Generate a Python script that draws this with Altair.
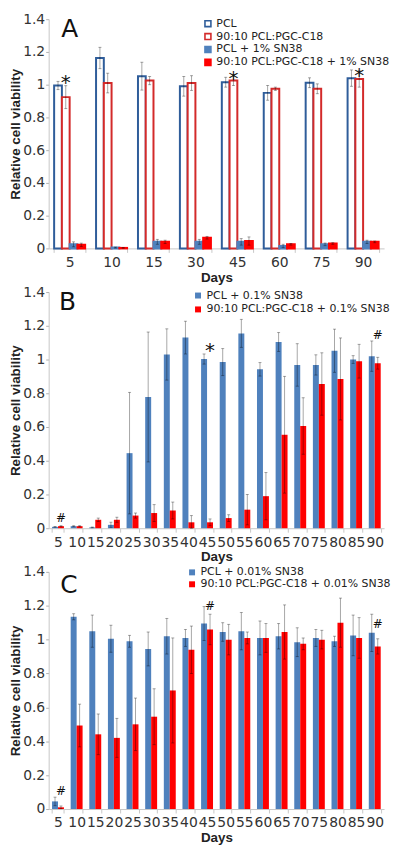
import altair as alt
import pandas as pd

FONT = "DejaVu Sans"
TFONT = "Liberation Sans"

# ---------------- Panel A ----------------
days_a = ["5", "10", "15", "30", "45", "60", "75", "90"]
series_a = ["PCL", "90:10 PCL:PGC-C18", "PCL + 1% SN38", "90:10 PCL:PGC-C18 + 1% SN38"]
a_pcl = [0.995, 1.163, 1.052, 0.990, 1.015, 0.950, 1.012, 1.040]
a_pcl_err = [0.025, 0.065, 0.085, 0.060, 0.030, 0.045, 0.030, 0.050]
a_blend = [0.924, 1.010, 1.025, 1.010, 1.025, 0.975, 0.975, 1.035]
a_blend_err = [0.070, 0.060, 0.025, 0.045, 0.030, 0.010, 0.030, 0.050]
a_pcl_sn = [0.025, 0.005, 0.040, 0.040, 0.040, 0.015, 0.025, 0.040]
a_pcl_sn_err = [0.015, 0.003, 0.015, 0.015, 0.020, 0.010, 0.008, 0.010]
a_blend_sn = [0.022, 0.003, 0.040, 0.065, 0.045, 0.025, 0.030, 0.040]
a_blend_sn_err = [0.010, 0.002, 0.010, 0.008, 0.025, 0.005, 0.005, 0.005]
ann_a_day = ["5", "45", "90"]
ann_a_y = [1.01, 1.035, 1.05]
ann_a_lbl = ["*", "*", "*"]

# ---------------- Panel B ----------------
days_bc = ["5", "10", "15", "20", "25", "30", "35", "40", "45",
           "50", "55", "60", "65", "70", "75", "80", "85", "90"]
series_b = ["PCL + 0.1% SN38", "90:10 PCL:PGC-C18 + 0.1% SN38"]
b_pcl = [0.008, 0.012, 0.005, 0.020, 0.445, 0.778, 1.030, 1.130, 1.003, 0.985,
         1.155, 0.942, 1.104, 0.968, 0.968, 1.052, 1.000, 1.020]
b_pcl_err = [0.002, 0.003, 0.002, 0.015, 0.360, 0.385, 0.152, 0.097, 0.030, 0.080,
             0.083, 0.040, 0.056, 0.126, 0.060, 0.128, 0.023, 0.090]
b_blend = [0.012, 0.012, 0.050, 0.050, 0.075, 0.090, 0.105, 0.035, 0.035, 0.060,
           0.110, 0.190, 0.554, 0.606, 0.855, 0.885, 0.990, 0.978]
b_blend_err = [0.003, 0.003, 0.010, 0.015, 0.015, 0.050, 0.050, 0.040, 0.020, 0.020,
               0.090, 0.140, 0.346, 0.168, 0.185, 0.243, 0.100, 0.035]
ann_b_day = ["5", "45", "90"]
ann_b_y = [0.063, 1.05, 1.147]
ann_b_lbl = ["#", "*", "#"]

# ---------------- Panel C ----------------
series_c = ["PCL + 0.01% SN38", "90:10 PCL:PGC-C18 + 0.01% SN38"]
c_pcl = [0.045, 1.135, 1.050, 1.005, 0.990, 0.945, 1.020, 1.010, 1.095, 1.045,
         1.050, 1.010, 1.020, 0.985, 1.010, 0.990, 1.025, 1.040]
c_pcl_err = [0.025, 0.018, 0.095, 0.080, 0.035, 0.100, 0.105, 0.050, 0.100, 0.055,
             0.110, 0.100, 0.075, 0.085, 0.050, 0.030, 0.120, 0.110]
c_blend = [0.010, 0.493, 0.441, 0.420, 0.500, 0.545, 0.700, 0.940, 1.060, 1.000,
           1.010, 1.010, 1.045, 0.975, 1.000, 1.100, 1.010, 0.960]
c_blend_err = [0.008, 0.126, 0.120, 0.115, 0.155, 0.165, 0.310, 0.140, 0.090, 0.090,
               0.035, 0.085, 0.160, 0.035, 0.055, 0.145, 0.120, 0.045]
ann_c_day = ["5", "45", "90"]
ann_c_y = [0.105, 1.200, 1.090]
ann_c_lbl = ["#", "#", "#"]

# panel letters (anchored at the first day band, near the top of the axis)
panel_letters = ["A", "B", "C"]
letter_day = "5"
letter_y = [1.293, 1.295, 1.275]

BLUE = "#4F81BD"
RED = "#FF0000"
BLUE_EDGE = "#2F5D9A"
RED_EDGE = "#D32A2A"


def long_frame(days, series, values, errs):
    rows = []
    for s, vals, es in zip(series, values, errs):
        for d, v, e in zip(days, vals, es):
            rows.append({"day": d, "series": s, "value": v,
                         "lo": max(v - e, 0.0), "hi": v + e})
    return pd.DataFrame(rows)


def ann_frame(days, series_name, ys, labels):
    return pd.DataFrame({"day": days, "series": [series_name] * len(days),
                         "y": ys, "label": labels})


def panel(df, ann, letter_df, days, series, fills, strokes, letter_dx,
          lx, ly, row_pad, leg_fs, pad_inner, height, bar_sw):
    xs = alt.Scale(paddingInner=pad_inner, paddingOuter=pad_inner / 2)
    xax = alt.Axis(title="Days", labelAngle=0, tickBand="extent", tickSize=4,
                   labelPadding=3, titlePadding=1, domainColor="#c8c8c8",
                   tickColor="#c8c8c8", labelFont=FONT, labelFontSize=14,
                   labelColor="#333333", titleFont=TFONT, titleFontSize=13.5,
                   titleFontWeight="bold", titleColor="#222222")
    yax = alt.Axis(title="Relative cell viability",
                   values=[0, 0.2, 0.4, 0.6, 0.8, 1.0, 1.2, 1.4], format="~g",
                   grid=False, tickSize=3, labelPadding=1, titlePadding=0,
                   domainColor="#c8c8c8", tickColor="#b0b0b0", labelFont=FONT,
                   labelFontSize=14, labelColor="#333333", titleFont=TFONT,
                   titleFontSize=13.5, titleFontWeight="bold", titleColor="#222222")
    ys = alt.Scale(domain=[0, 1.4], nice=False)
    x = alt.X("day:N", sort=days, scale=xs, axis=xax)
    xo = alt.XOffset("series:N", sort=series,
                     scale=alt.Scale(domain=series, paddingInner=0, paddingOuter=0))
    leg = alt.Legend(title=None, orient="none", legendX=lx, legendY=ly, padding=0,
                     labelFont=FONT, labelFontSize=leg_fs, labelColor="#222222",
                     labelLimit=300, symbolType="square", symbolSize=36,
                     symbolStrokeWidth=1.6, rowPadding=row_pad, labelOffset=3)
    enc = dict(x=x, xOffset=xo, y=alt.Y("value:Q", scale=ys, axis=yax),
               fill=alt.Fill("series:N", sort=series,
                             scale=alt.Scale(domain=series, range=fills), legend=leg))
    if strokes is not None:
        enc["stroke"] = alt.Stroke("series:N", sort=series,
                                   scale=alt.Scale(domain=series, range=strokes),
                                   legend=leg)
    bars = alt.Chart(df).mark_bar(strokeWidth=bar_sw).encode(**enc)
    rules = alt.Chart(df).mark_rule(color="black", opacity=0.35, strokeWidth=1).encode(
        x=x, xOffset=xo, y=alt.Y("lo:Q", scale=ys, axis=yax), y2="hi:Q")
    caps = alt.Chart(df).transform_fold(["lo", "hi"], as_=["end", "v"]).mark_tick(
        color="black", opacity=0.35, size=3, thickness=1).encode(
        x=x, xOffset=xo, y=alt.Y("v:Q", scale=ys, axis=yax))
    texts = alt.Chart(ann).mark_text(font=FONT, color="#111111", baseline="middle").encode(
        x=x, xOffset=xo, y=alt.Y("y:Q", scale=ys, axis=yax), text="label:N",
        size=alt.Size("label:N", scale=alt.Scale(domain=["*", "#"], range=[20, 12]),
                      legend=None))
    letter = alt.Chart(letter_df).mark_text(
        font=FONT, fontSize=25, color="#111111", baseline="alphabetic",
        align="center", dx=letter_dx).encode(
        x=x, y=alt.Y("y:Q", scale=ys, axis=yax), text="letter:N")
    return alt.layer(bars, rules, caps, texts, letter).properties(
        width=338, height=height)


df_a = long_frame(days_a, series_a, [a_pcl, a_blend, a_pcl_sn, a_blend_sn],
                  [a_pcl_err, a_blend_err, a_pcl_sn_err, a_blend_sn_err])
df_b = long_frame(days_bc, series_b, [b_pcl, b_blend], [b_pcl_err, b_blend_err])
df_c = long_frame(days_bc, series_c, [c_pcl, c_blend], [c_pcl_err, c_blend_err])

ann_a = ann_frame(ann_a_day, series_a[1], ann_a_y, ann_a_lbl)
ann_b = ann_frame(ann_b_day, series_b[1], ann_b_y, ann_b_lbl)
ann_c = ann_frame(ann_c_day, series_c[1], ann_c_y, ann_c_lbl)

letters = [pd.DataFrame({"day": [letter_day], "y": [yv], "letter": [lt]})
           for lt, yv in zip(panel_letters, letter_y)]

chart_a = panel(df_a, ann_a, letters[0], days_a, series_a,
                ["white", "white", BLUE, RED], [BLUE_EDGE, RED_EDGE, BLUE, RED],
                0, 155, -1, 0, 11, 0.26, 231, 2)
chart_b = panel(df_b, ann_b, letters[1], days_bc, series_b, [BLUE, RED], None,
                9.5, 145, -2, 2, 11, 0.36, 238, 0)
chart_c = panel(df_c, ann_c, letters[2], days_bc, series_c, [BLUE, RED], None,
                11, 139, -5, 0, 11, 0.36, 239, 0)

chart = alt.vconcat(chart_a, chart_b, chart_c, spacing=0).resolve_scale(
    x="independent", y="independent", xOffset="independent",
    fill="independent", stroke="independent", size="independent"
).resolve_legend(fill="independent", stroke="independent", size="independent"
).properties(padding={"left": 0, "top": 0, "right": 0, "bottom": 0}
).configure(padding=0).configure_view(stroke="transparent")

chart.save("out.html", embed_options={"renderer": "svg", "actions": False})
